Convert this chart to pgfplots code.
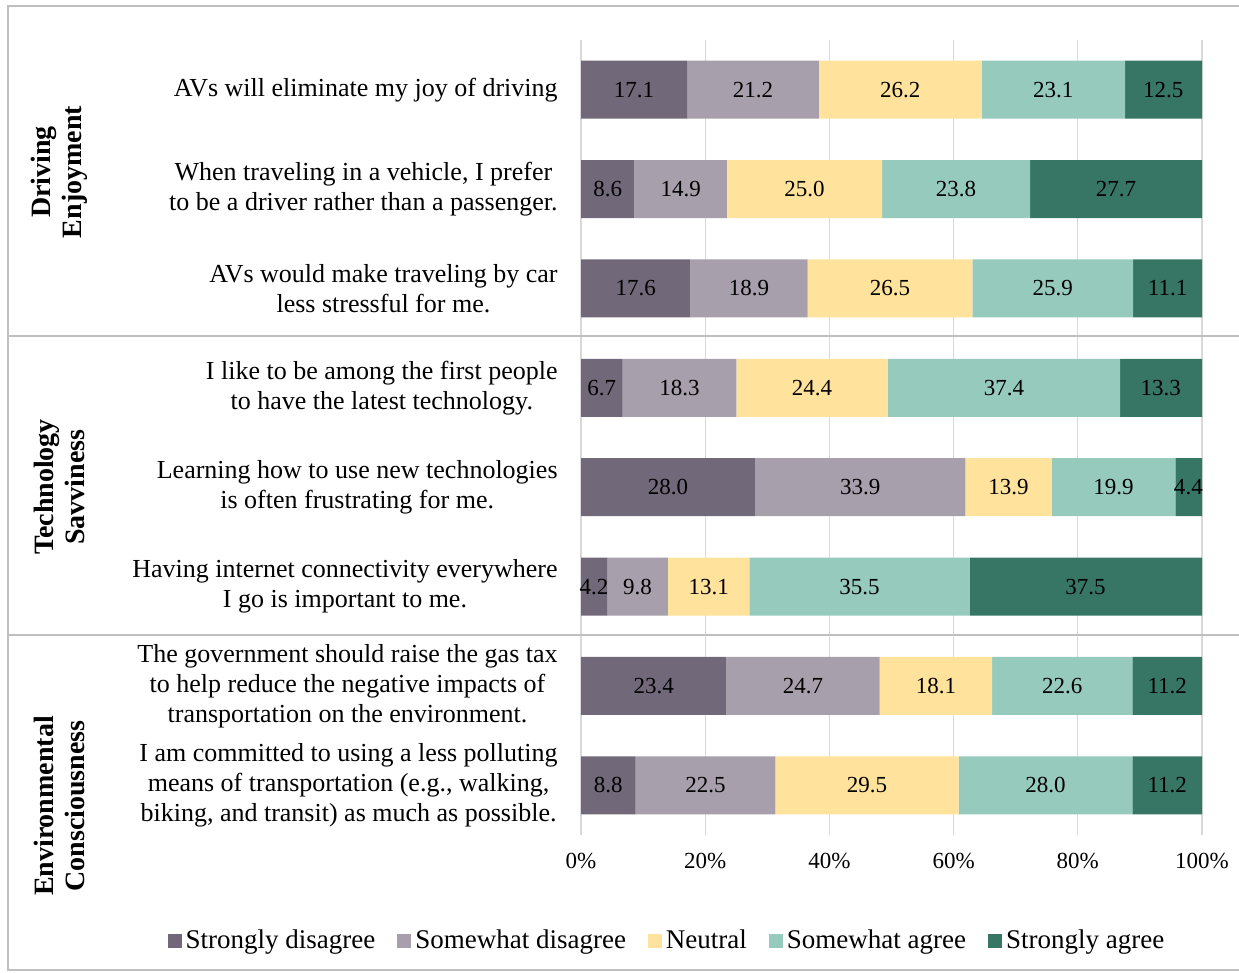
\documentclass[border=0pt]{standalone}
\usepackage{pgfplots}
\pgfplotsset{compat=1.18}
\usepackage{pgfplotstable}
\usepackage{fontspec}
\setmainfont{Liberation Serif}
\definecolor{csd}{RGB}{113,104,121}
\definecolor{cswd}{RGB}{167,159,171}
\definecolor{cneu}{RGB}{255,226,155}
\definecolor{cswa}{RGB}{150,202,189}
\definecolor{csa}{RGB}{55,118,101}
\definecolor{gridc}{RGB}{217,217,217}
\definecolor{framec}{RGB}{191,191,191}
\pgfplotstableread{
idx sd swd neu swa sa
0 17.1 21.2 26.2 23.1 12.5
1 8.6 14.9 25.0 23.8 27.7
2 17.6 18.9 26.5 25.9 11.1
3 6.7 18.3 24.4 37.4 13.3
4 28.0 33.9 13.9 19.9 4.4
5 4.2 9.8 13.1 35.5 37.5
6 23.4 24.7 18.1 22.6 11.2
7 8.8 22.5 29.5 28.0 11.2
}\likert
\pgfplotsset{
  geom/.style={at={(AXSW)}, anchor=south west,
    scale only axis, width=310.5bp, height=397.5bp,
    xmin=0, xmax=100, ymin=-0.5, ymax=7.5, y dir=reverse},
  lbl/.style={draw=none, mark=none, only marks, point meta=explicit,
    nodes near coords={\pgfmathprintnumber[fixed,fixed zerofill,precision=1]{\pgfplotspointmeta}},
    every node near coord/.append style={anchor=center, text=black, inner sep=0pt,
      font=\fontsize{11.5bp}{13bp}\selectfont}},
}
\begin{document}
\begin{tikzpicture}[x=0.5bp,y=-0.5bp]
\useasboundingbox (0,0) rectangle (1239,972);
\draw[framec, line width=1.2bp] (1260,6) -- (8,6) -- (8,970) -- (1260,970);
\coordinate (AXSW) at (581,835);
\begin{axis}[
  geom,
  xbar stacked, bar width=29bp,
  axis line style={draw=none},
  major tick length=0pt,
  xmajorgrids, grid style={gridc, line width=0.6bp},
  xtick={0,20,...,100},
  xticklabel={\pgfmathprintnumber{\tick}\%},
  /pgf/number format/assume math mode=true,
  xticklabel style={font=\fontsize{11.5bp}{13bp}\selectfont, inner sep=0pt, yshift=-9bp},
  ytick={0,...,7},
  yticklabels={
    {AVs will eliminate my joy of driving},
    {When traveling in a vehicle, I prefer\\to be a driver rather than a passenger.},
    {AVs would make traveling by car\\less stressful for me.},
    {I like to be among the first people\\to have the latest technology.},
    {Learning how to use new technologies\\is often frustrating for me.},
    {Having internet connectivity everywhere\\I go is important to me.},
    {The government should raise the gas tax\\to help reduce the negative impacts of\\transportation on the environment.},
    {I am committed to using a less polluting\\means of transportation (e.g., walking,\\biking, and transit) as much as possible.}},
  yticklabel style={align=center, font=\fontsize{13bp}{15bp}\selectfont, inner sep=0pt, xshift=-11.5bp},
  legend image code/.code={\fill[#1] (0bp,-3.5bp) rectangle (7bp,3.5bp);},
  legend style={at={(0.14,-0.133)}, anchor=center, draw=none, fill=none,
     legend columns=5, font=\fontsize{13.5bp}{16bp}\selectfont,
     /tikz/every even column/.append style={column sep=9bp}},
  legend cell align=left,
]
\addplot[fill=csd, draw=none] table[x=sd, y=idx] {\likert};
\addplot[fill=cswd, draw=none] table[x=swd, y=idx] {\likert};
\addplot[fill=cneu, draw=none] table[x=neu, y=idx] {\likert};
\addplot[fill=cswa, draw=none] table[x=swa, y=idx] {\likert};
\addplot[fill=csa, draw=none] table[x=sa, y=idx] {\likert};
\legend{Strongly disagree, Somewhat disagree, Neutral, Somewhat agree, Strongly agree}
\end{axis}
\begin{axis}[geom, hide axis, clip=false, /pgf/number format/assume math mode=true]
\addplot[lbl] table[x expr=\thisrow{sd}/2, y=idx, meta=sd] {\likert};
\addplot[lbl] table[x expr=\thisrow{sd}+\thisrow{swd}/2, y=idx, meta=swd] {\likert};
\addplot[lbl] table[x expr=\thisrow{sd}+\thisrow{swd}+\thisrow{neu}/2, y=idx, meta=neu] {\likert};
\addplot[lbl] table[x expr=\thisrow{sd}+\thisrow{swd}+\thisrow{neu}+\thisrow{swa}/2, y=idx, meta=swa] {\likert};
\addplot[lbl] table[x expr=100-\thisrow{sa}/2, y=idx, meta=sa] {\likert};
\end{axis}
\draw[framec, line width=1.2bp] (8,336) -- (1260,336);
\draw[framec, line width=1.2bp] (8,635) -- (1260,635);
\node[rotate=90, align=center, font=\bfseries\fontsize{14bp}{15.5bp}\selectfont] at (59,172) {Driving\\Enjoyment};
\node[rotate=90, align=center, font=\bfseries\fontsize{14bp}{15.5bp}\selectfont] at (59,487) {Technology\\Savviness};
\node[rotate=90, align=center, font=\bfseries\fontsize{14bp}{15.5bp}\selectfont] at (59,806) {Environmental\\Consciousness};
\end{tikzpicture}
\end{document}
